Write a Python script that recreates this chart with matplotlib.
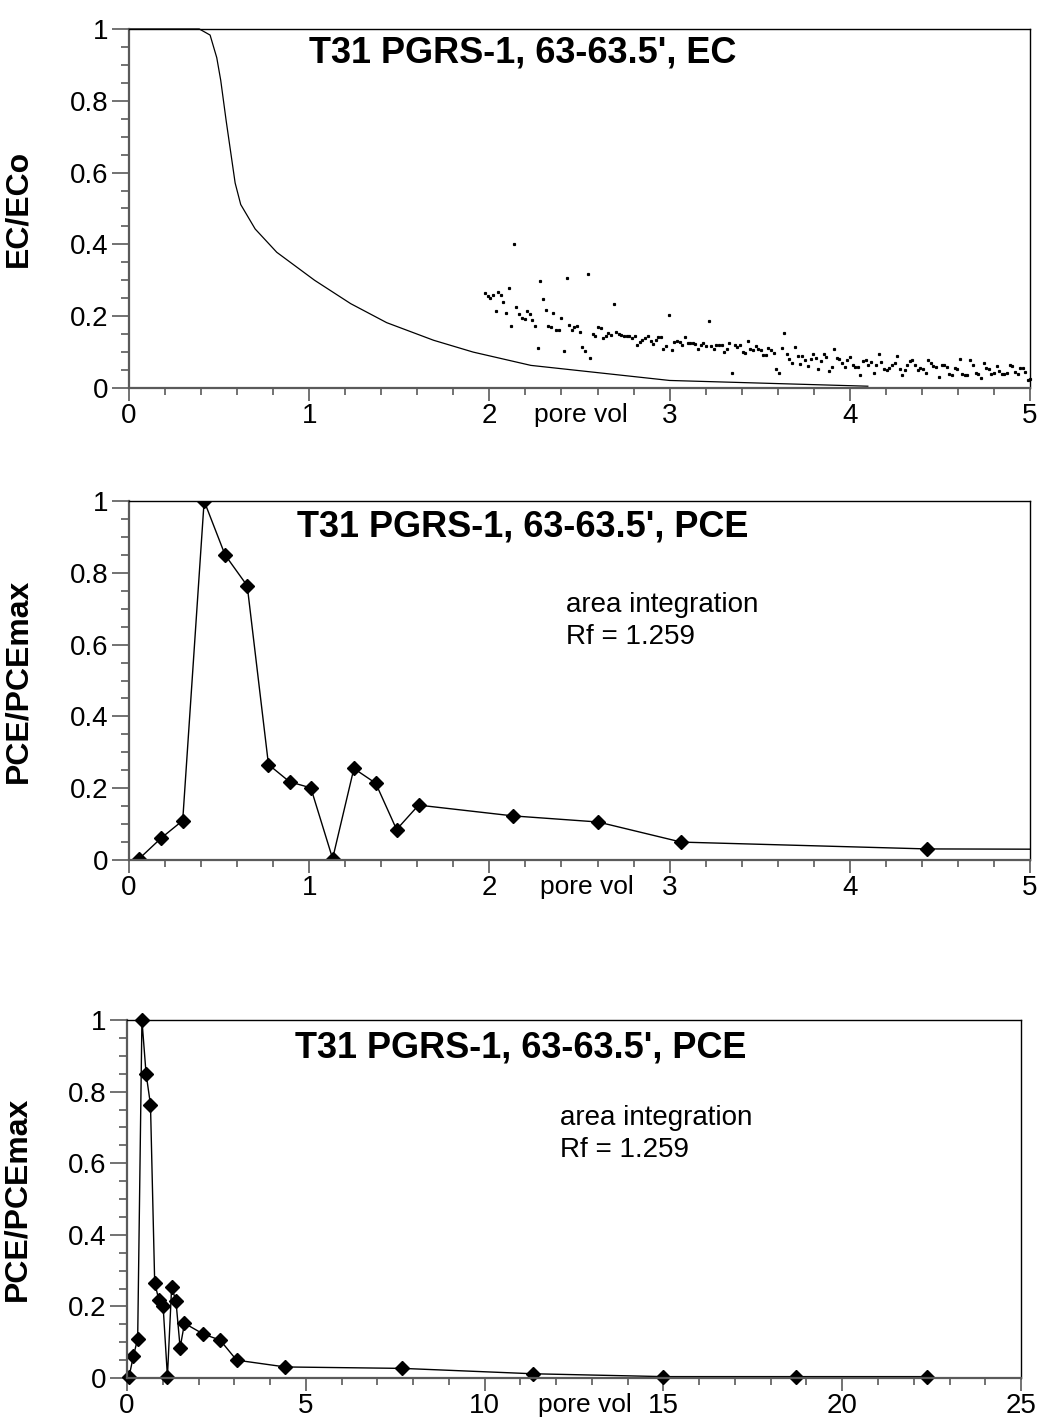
import matplotlib
matplotlib.use("Agg")
import matplotlib.pyplot as plt
from matplotlib.ticker import MultipleLocator, FixedLocator, FixedFormatter

plt.rcParams['font.family'] = ['Liberation Sans', 'DejaVu Sans']

# EC breakthrough curve (line)
ec_curve_x = [0, 0.39, 0.45, 0.487, 0.509, 0.539, 0.589, 0.62, 0.70, 0.82, 1.03,
              1.23, 1.43, 1.69, 1.91, 2.23, 3.0, 4.1]
ec_curve_y = [1, 1, 0.983, 0.92, 0.857, 0.745, 0.571, 0.511, 0.443, 0.378, 0.30,
              0.235, 0.182, 0.133, 0.10, 0.063, 0.021, 0.005]

# EC measured points (dots)
ec_dot_x = [1.976, 1.991, 2.006, 2.019, 2.036, 2.049, 2.063, 2.078, 2.093, 2.108,
            2.121, 2.136, 2.150, 2.165, 2.180, 2.195, 2.210, 2.225, 2.238, 2.252,
            2.267, 2.282, 2.297, 2.312, 2.327, 2.340, 2.354, 2.369, 2.384, 2.399,
            2.414, 2.429, 2.442, 2.456, 2.471, 2.486, 2.501, 2.516, 2.531, 2.545,
            2.558, 2.573, 2.588, 2.603, 2.618, 2.631, 2.646, 2.660, 2.675, 2.690,
            2.705, 2.720, 2.733, 2.747, 2.762, 2.777, 2.792, 2.807, 2.820, 2.835,
            2.849, 2.864, 2.879, 2.894, 2.909, 2.924, 2.938, 2.953, 2.966, 2.981,
            2.996, 3.011, 3.026, 3.040, 3.055, 3.070, 3.085, 3.100, 3.113, 3.128,
            3.142, 3.157, 3.172, 3.187, 3.202, 3.217, 3.229, 3.244, 3.259, 3.274,
            3.289, 3.304, 3.317, 3.331, 3.346, 3.361, 3.376, 3.391, 3.406, 3.420,
            3.433, 3.448, 3.463, 3.478, 3.493, 3.508, 3.519, 3.534, 3.548, 3.563,
            3.578, 3.591, 3.606, 3.621, 3.636, 3.650, 3.665, 3.680, 3.695, 3.710,
            3.725, 3.737, 3.752, 3.767, 3.782, 3.797, 3.812, 3.826, 3.841, 3.854,
            3.869, 3.884, 3.899, 3.912, 3.927, 3.941, 3.956, 3.971, 3.986, 4.001,
            4.016, 4.028, 4.043, 4.058, 4.073, 4.088, 4.103, 4.118, 4.132, 4.145,
            4.160, 4.175, 4.190, 4.205, 4.219, 4.234, 4.249, 4.262, 4.277, 4.290,
            4.305, 4.320, 4.333, 4.347, 4.362, 4.377, 4.392, 4.407, 4.422, 4.436,
            4.449, 4.464, 4.479, 4.494, 4.509, 4.523, 4.538, 4.551, 4.566, 4.581,
            4.596, 4.611, 4.625, 4.640, 4.653, 4.668, 4.683, 4.698, 4.713, 4.727,
            4.742, 4.755, 4.770, 4.785, 4.800, 4.815, 4.829, 4.844, 4.857, 4.872,
            4.887, 4.902, 4.917, 4.931, 4.944, 4.959, 4.974, 4.989, 5.0]
ec_dot_y = [0.264, 0.255, 0.250, 0.258, 0.215, 0.267, 0.259, 0.240, 0.208, 0.278,
            0.173, 0.401, 0.225, 0.207, 0.196, 0.191, 0.214, 0.205, 0.189, 0.173,
            0.112, 0.297, 0.247, 0.218, 0.173, 0.170, 0.210, 0.161, 0.161, 0.196,
            0.103, 0.307, 0.175, 0.162, 0.170, 0.173, 0.155, 0.114, 0.103, 0.318,
            0.083, 0.150, 0.146, 0.170, 0.166, 0.138, 0.145, 0.152, 0.149, 0.234,
            0.155, 0.150, 0.148, 0.146, 0.146, 0.144, 0.140, 0.145, 0.120, 0.128,
            0.133, 0.139, 0.145, 0.132, 0.122, 0.135, 0.141, 0.141, 0.110, 0.118,
            0.202, 0.105, 0.129, 0.132, 0.128, 0.119, 0.141, 0.125, 0.125, 0.124,
            0.123, 0.109, 0.121, 0.124, 0.117, 0.187, 0.117, 0.108, 0.121, 0.121,
            0.120, 0.100, 0.108, 0.125, 0.043, 0.120, 0.115, 0.121, 0.100, 0.097,
            0.132, 0.108, 0.107, 0.117, 0.109, 0.107, 0.092, 0.092, 0.112, 0.106,
            0.098, 0.053, 0.043, 0.111, 0.152, 0.096, 0.080, 0.071, 0.114, 0.088,
            0.067, 0.089, 0.077, 0.062, 0.082, 0.096, 0.083, 0.052, 0.074, 0.095,
            0.087, 0.048, 0.059, 0.110, 0.083, 0.080, 0.069, 0.059, 0.078, 0.085,
            0.064, 0.058, 0.058, 0.036, 0.074, 0.078, 0.064, 0.072, 0.043, 0.063,
            0.096, 0.073, 0.053, 0.051, 0.055, 0.063, 0.071, 0.089, 0.053, 0.037,
            0.050, 0.064, 0.075, 0.078, 0.065, 0.049, 0.056, 0.053, 0.041, 0.078,
            0.071, 0.062, 0.058, 0.031, 0.065, 0.065, 0.059, 0.039, 0.036, 0.057,
            0.053, 0.080, 0.039, 0.036, 0.036, 0.078, 0.063, 0.043, 0.039, 0.028,
            0.071, 0.057, 0.052, 0.039, 0.043, 0.061, 0.047, 0.039, 0.039, 0.043,
            0.064, 0.060, 0.045, 0.039, 0.055, 0.056, 0.045, 0.022, 0.024]

# PCE breakthrough
pce_x = [0.057, 0.178, 0.298, 0.417, 0.533, 0.656, 0.774, 0.891, 1.009, 1.130,
         1.248, 1.369, 1.485, 1.607, 2.131, 2.603, 3.065, 4.427, 7.70, 11.35,
         15.0, 18.7, 22.37]
pce_y = [0.004, 0.061, 0.110, 1.0, 0.850, 0.764, 0.266, 0.218, 0.201, 0.004,
         0.255, 0.214, 0.085, 0.153, 0.123, 0.106, 0.050, 0.031, 0.027, 0.012,
         0.004, 0.004, 0.004]

y_ticks = [0, 0.2, 0.4, 0.6, 0.8, 1]
y_labels = ['0', '0.2', '0.4', '0.6', '0.8', '1']

TICK_FS = 20
TITLE_FS = 26
GRAY = '#5a5a5a'

fig = plt.figure(figsize=(10.42, 14.27), dpi=100)
ax1 = fig.add_axes([0.1238, 0.7281, 0.8647, 0.2516])
ax2 = fig.add_axes([0.1238, 0.3973, 0.8647, 0.2516])
ax3 = fig.add_axes([0.1219, 0.0343, 0.8580, 0.2509])


def style(ax, xmax, xmajor, xminor):
    ax.set_xlim(0, xmax)
    ax.set_ylim(0, 1)
    ax.xaxis.set_major_locator(MultipleLocator(xmajor))
    ax.xaxis.set_minor_locator(MultipleLocator(xminor))
    ax.yaxis.set_major_locator(FixedLocator(y_ticks))
    ax.yaxis.set_major_formatter(FixedFormatter(y_labels))
    ax.yaxis.set_minor_locator(MultipleLocator(0.05))
    for s in ('top', 'right'):
        ax.spines[s].set_color('black')
        ax.spines[s].set_linewidth(1.0)
    for s in ('left', 'bottom'):
        ax.spines[s].set_color(GRAY)
        ax.spines[s].set_linewidth(1.6)
    ax.tick_params(axis='x', which='major', direction='out', length=9, width=1.2,
                   color=GRAY, labelsize=TICK_FS, pad=2)
    ax.tick_params(axis='x', which='minor', direction='out', length=5, width=1.2,
                   color=GRAY)
    ax.tick_params(axis='y', which='major', direction='out', length=12, width=1.2,
                   color=GRAY, labelsize=TICK_FS, pad=3)
    ax.tick_params(axis='y', which='minor', direction='out', length=6, width=1.2,
                   color=GRAY)


def pore_vol(ax, xpos):
    ax.annotate('pore vol', xy=(xpos, 0), xycoords=('data', 'axes fraction'),
                xytext=(0, -11), textcoords='offset points', ha='center', va='top',
                fontsize=19)


def ylab(ax, text):
    ax.text(-0.123, 0.5, text, transform=ax.transAxes, rotation=90, ha='center',
            va='center', fontsize=23, fontweight='bold')


# top: EC
style(ax1, 5, 1, 0.2)
ax1.plot(ec_curve_x, ec_curve_y, color='black', lw=0.9, clip_on=False)
ax1.plot(ec_dot_x, ec_dot_y, linestyle='none', marker='s', markersize=1.3,
         color='black', clip_on=False)
ax1.text(0.437, 0.933, "T31 PGRS-1, 63-63.5', EC", transform=ax1.transAxes,
         ha='center', va='center', fontsize=TITLE_FS, fontweight='bold')
ylab(ax1, 'EC/ECo')
pore_vol(ax1, 2.51)

# middle: PCE, 0-5
style(ax2, 5, 1, 0.2)
ax2.plot(pce_x, pce_y, color='black', lw=1.0, marker='D', markersize=7,
         clip_on=True)
ax2.text(0.437, 0.928, "T31 PGRS-1, 63-63.5', PCE", transform=ax2.transAxes,
         ha='center', va='center', fontsize=TITLE_FS, fontweight='bold')
ax2.text(0.485, 0.71, 'area integration', transform=ax2.transAxes, ha='left',
         va='center', fontsize=20)
ax2.text(0.485, 0.621, 'Rf = 1.259', transform=ax2.transAxes, ha='left',
         va='center', fontsize=20)
ylab(ax2, 'PCE/PCEmax')
pore_vol(ax2, 2.54)

# bottom: PCE, 0-25
style(ax3, 25, 5, 1)
ax3.plot(pce_x, pce_y, color='black', lw=1.0, marker='D', markersize=7,
         clip_on=False)
ax3.text(0.44, 0.922, "T31 PGRS-1, 63-63.5', PCE", transform=ax3.transAxes,
         ha='center', va='center', fontsize=TITLE_FS, fontweight='bold')
ax3.text(0.484, 0.726, 'area integration', transform=ax3.transAxes, ha='left',
         va='center', fontsize=20)
ax3.text(0.484, 0.637, 'Rf = 1.259', transform=ax3.transAxes, ha='left',
         va='center', fontsize=20)
ylab(ax3, 'PCE/PCEmax')
pore_vol(ax3, 12.8)

fig.savefig('out.png', dpi=100)
